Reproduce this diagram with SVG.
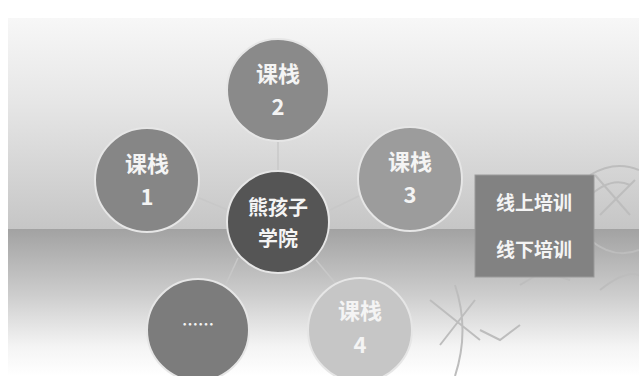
<svg xmlns="http://www.w3.org/2000/svg" width="639" height="376" viewBox="0 0 639 376">
<defs>
<linearGradient id="bgTop" x1="0" y1="0" x2="0" y2="1">
<stop offset="0" stop-color="#f7f7f7"/>
<stop offset="0.4" stop-color="#e6e6e6"/>
<stop offset="1" stop-color="#c6c6c6"/>
</linearGradient>
<linearGradient id="bgBot" x1="0" y1="0" x2="0" y2="1">
<stop offset="0" stop-color="#a2a2a2"/>
<stop offset="0.45" stop-color="#cdcdcd"/>
<stop offset="0.8" stop-color="#f4f4f4"/>
<stop offset="1" stop-color="#ffffff"/>
</linearGradient>
<style>
.node circle{stroke:#e6e6e6;stroke-width:2}
.t{font-family:"Noto Sans CJK SC","Liberation Sans",sans-serif;font-weight:bold;fill:#f4f4f4;text-anchor:middle}
.c{stroke:#c8c8c8;stroke-width:1.5;fill:none}
.deco{stroke:#bdbdbd;stroke-width:2;fill:none}
</style>
</defs>
<rect x="0" y="0" width="639" height="376" fill="#ffffff"/>
<rect x="8" y="18" width="631" height="211" fill="url(#bgTop)"/>
<rect x="8" y="229" width="631" height="147" fill="url(#bgBot)"/>
<g id="decor">
<path class="deco" d="M590 175 Q615 160 639 170 M585 200 Q610 175 630 185 M595 175 L630 215 M600 215 L635 180 M590 240 Q615 260 639 250 M600 290 Q625 270 639 275"/>
<path class="deco" d="M430 300 L480 340 M475 300 L440 345 M455 285 Q470 330 455 376 M480 330 L500 340 L520 325 M520 285 L545 270 M555 275 L570 280"/>
</g>
<g id="connectors">
<line class="c" x1="278" y1="138" x2="278" y2="172"/>
<line class="c" x1="199" y1="198" x2="228" y2="210"/>
<line class="c" x1="330" y1="210" x2="359" y2="196"/>
<line class="c" x1="238" y1="258" x2="226" y2="284"/>
<line class="c" x1="316" y1="260" x2="336" y2="284"/>
</g>
<g id="node-2" class="node"><circle cx="278" cy="90" r="51" fill="#8a8a8a"/><text class="t" x="278" y="82" font-size="22">课栈</text><text class="t" x="278" y="115" font-size="22">2</text></g>
<g id="node-1" class="node"><circle cx="147" cy="180" r="52" fill="#868686"/><text class="t" x="147" y="172" font-size="22">课栈</text><text class="t" x="147" y="205" font-size="22">1</text></g>
<g id="node-3" class="node"><circle cx="410" cy="179" r="52" fill="#9c9c9c"/><text class="t" x="410" y="170" font-size="22">课栈</text><text class="t" x="410" y="203" font-size="22">3</text></g>
<g id="node-center" class="node"><circle cx="278" cy="222" r="51" fill="#555555"/><text class="t" x="278" y="215" font-size="20">熊孩子</text><text class="t" x="278" y="246" font-size="20">学院</text></g>
<g id="node-more" class="node"><circle cx="198" cy="330" r="51" fill="#7c7c7c"/><text class="t" x="198" y="330" font-size="16">……</text></g>
<g id="node-4" class="node"><circle cx="360" cy="330" r="52" fill="#c6c6c6"/><text class="t" x="360" y="319" font-size="22">课栈</text><text class="t" x="360" y="353" font-size="22">4</text></g>
<g id="node-training"><rect x="475" y="175" width="119" height="102" fill="#828282" stroke="#9a9a9a" stroke-width="1"/><text class="t" x="534" y="210" font-size="19">线上培训</text><text class="t" x="534" y="257" font-size="19">线下培训</text></g>
</svg>
